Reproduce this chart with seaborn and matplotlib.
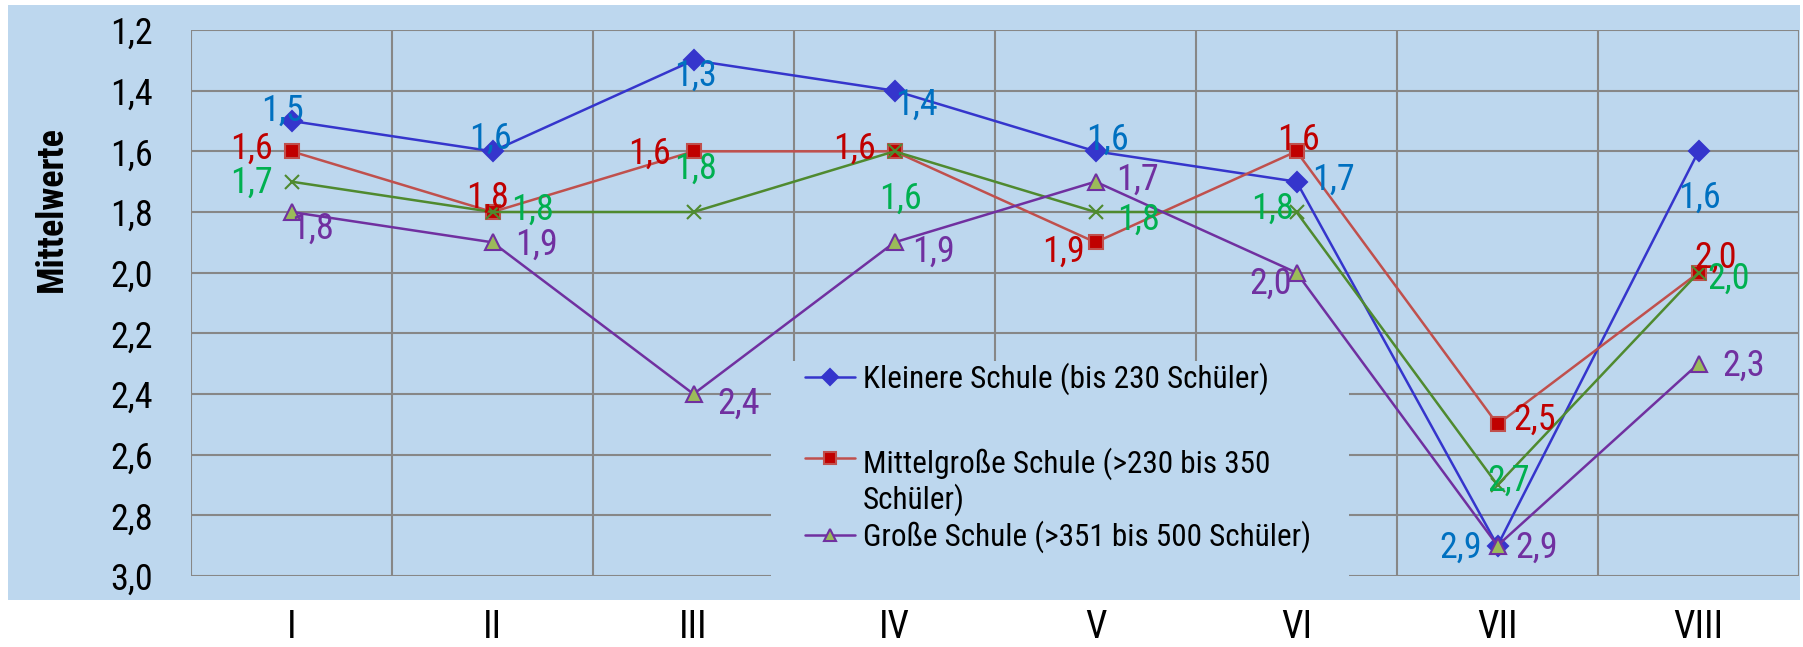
import numpy as np
import pandas as pd
import matplotlib
matplotlib.use("Agg")
import matplotlib.pyplot as plt
import seaborn as sns
from matplotlib.patches import Rectangle
from matplotlib.ticker import FuncFormatter
from matplotlib import font_manager as fm

# ---------------- data ----------------
categories = ["I", "II", "III", "IV", "V", "VI", "VII", "VIII"]
kleinere = [1.5, 1.6, 1.3, 1.4, 1.6, 1.7, 2.9, 1.6]
mittelgross = [1.6, 1.8, 1.6, 1.6, 1.9, 1.6, 2.5, 2.0]
gesamt = [1.7, 1.8, 1.8, 1.6, 1.8, 1.8, 2.7, 2.0]
grosse = [1.8, 1.9, 2.4, 1.9, 1.7, 2.0, 2.9, 2.3]
series_names = [
    "Kleinere Schule (bis 230 Schüler)",
    "Mittelgroße Schule (>230 bis 350\nSchüler)",
    "Gesamt",
    "Große Schule (>351 bis 500 Schüler)",
]
y_label = "Mittelwerte"

# ---------------- style ----------------
sns.set_style("white")
installed = {f.name for f in fm.fontManager.ttflist}
cands = ["Roboto Condensed", "Liberation Sans Narrow", "Roboto", "DejaVu Sans"]
FONT = [c for c in cands if c in installed] or ["DejaVu Sans"]
plt.rcParams["font.family"] = FONT

BG = "#BDD7EE"
GRID = "#878787"
W, H = 1803, 647

styles = {
    series_names[0]: dict(color="#3535CC", marker="D", markersize=10, mfc="#3535CC", mec="#3535CC", lab="#0070C0"),
    series_names[1]: dict(color="#C0504D", marker="s", markersize=10, mfc="#C00000", mec="#C0504D", lab="#C00000"),
    series_names[2]: dict(color="#4F8A2F", marker="x", markersize=10, mfc="#4F8A2F", mec="#4F8A2F", lab="#00B050"),
    series_names[3]: dict(color="#7030A0", marker="^", markersize=11, mfc="#9BBB59", mec="#7030A0", lab="#7030A0"),
}

# label offsets in pixels (dx right, dy down) relative to the marker
offsets = {
    series_names[0]: [(-9, -10), (-2, -13), (2, 15), (22, 14), (12, -12), (37, -2), (-37, 2), (1, 46)],
    series_names[1]: [(-40, -3), (-5, -14), (-44, 2), (-40, -3), (-32, 9), (2, -12), (37, -5), (17, -15)],
    series_names[2]: [(-40, 1), (40, -2), (2, -43), (6, 47), (43, 8), (-24, -3), (11, -4), (30, 6)],
    series_names[3]: [(21, 17), (44, 2), (45, 10), (39, 9), (42, -2), (-26, 11), (39, 2), (45, 2)],
}

df = pd.concat([
    pd.DataFrame({"pos": np.arange(len(categories)), "kategorie": categories, "wert": vals, "serie": name})
    for name, vals in zip(series_names, [kleinere, mittelgross, gesamt, grosse])
], ignore_index=True)

fig = plt.figure(figsize=(W / 100, H / 100), dpi=100)
fig.patch.set_facecolor("white")
fig.patches.append(Rectangle((8 / W, 1 - 600 / H), (1800 - 8) / W, (600 - 5) / H,
                             transform=fig.transFigure, facecolor=BG, edgecolor="none", zorder=-5))

ax = fig.add_axes([191 / W, 1 - 576 / H, (1799 - 191) / W, (576 - 30) / H])
ax.set_zorder(1)
ax.set_facecolor(BG)
ax.set_axisbelow(True)

handles = {}
for name in series_names:
    st = styles[name]
    sub = df[df["serie"] == name]
    sns.lineplot(data=sub, x="pos", y="wert", ax=ax, color=st["color"], linewidth=1.8,
                 marker=st["marker"], markersize=st["markersize"], markerfacecolor=st["mfc"],
                 markeredgecolor=st["mec"], markeredgewidth=1.5, legend=False, zorder=3)
    handles[name] = ax.lines[-1]
    for (x, v), (dx, dy) in zip(zip(sub["pos"], sub["wert"]), offsets[name]):
        ax.annotate(f"{v:.1f}".replace(".", ","), (x, v), xytext=(dx, -dy), textcoords="offset pixels",
                    ha="center", va="center", color=st["lab"], fontsize=26, zorder=5)

ax.set_xlim(-0.5, len(categories) - 0.5)
ax.set_ylim(3.0, 1.2)
ax.set_xticks(np.arange(len(categories)))
ax.set_xticklabels(categories)
ax.set_xticks(np.arange(-0.5, len(categories), 1.0), minor=True)
ax.set_yticks(np.round(np.arange(1.2, 3.01, 0.2), 1))
ax.yaxis.set_major_formatter(FuncFormatter(lambda v, p: f"{v:.1f}".replace(".", ",")))
ax.grid(which="minor", axis="x", color=GRID, linewidth=1.5)
ax.grid(which="major", axis="y", color=GRID, linewidth=1.5)
ax.grid(which="major", axis="x", visible=False)
for s in ax.spines.values():
    s.set_visible(False)
ax.tick_params(axis="x", which="both", length=0, pad=24, labelsize=27.5, labelcolor="black")
ax.tick_params(axis="y", length=9.4, width=1.1, color=GRID, pad=18, labelsize=26, labelcolor="black")
ax.set_xlabel("")
ax.set_ylabel(y_label, fontsize=26, fontweight="bold", color="black")
ax.yaxis.set_label_coords(-0.0753, 0.672)

# legend background covering the grid
ax.add_patch(Rectangle((771 / W, 1 - 600 / H), (1349 - 771) / W, (600 - 361) / H,
                       transform=fig.transFigure, facecolor=BG, edgecolor="none", zorder=1.5, clip_on=False))

# legend: one entry per box so each row sits where the reference puts it
leg_names = [series_names[0], series_names[1], series_names[3]]
leg_y = [379, 482, 537]
for i, (n, yc) in enumerate(zip(leg_names, leg_y)):
    leg = ax.legend([handles[n]], [n], loc="center left",
                    bbox_to_anchor=(805 / W, 1 - yc / H), bbox_transform=fig.transFigure,
                    frameon=False, fontsize=22.5, handlelength=1.6, handletextpad=0.25,
                    borderpad=0.0, borderaxespad=0.0, labelspacing=0.0, markerscale=0.85)
    leg.set_zorder(6)
    for t in leg.get_texts():
        t.set_color("black")
        t.set_linespacing(1.15)
    if "\n" in n:
        # align the marker with the first text line
        for col in leg._legend_handle_box.get_children():
            for row in col.get_children():
                row.align = "top"
    if i < len(leg_names) - 1:
        ax.add_artist(leg)

fig.savefig("out.png", dpi=100, facecolor="white")
